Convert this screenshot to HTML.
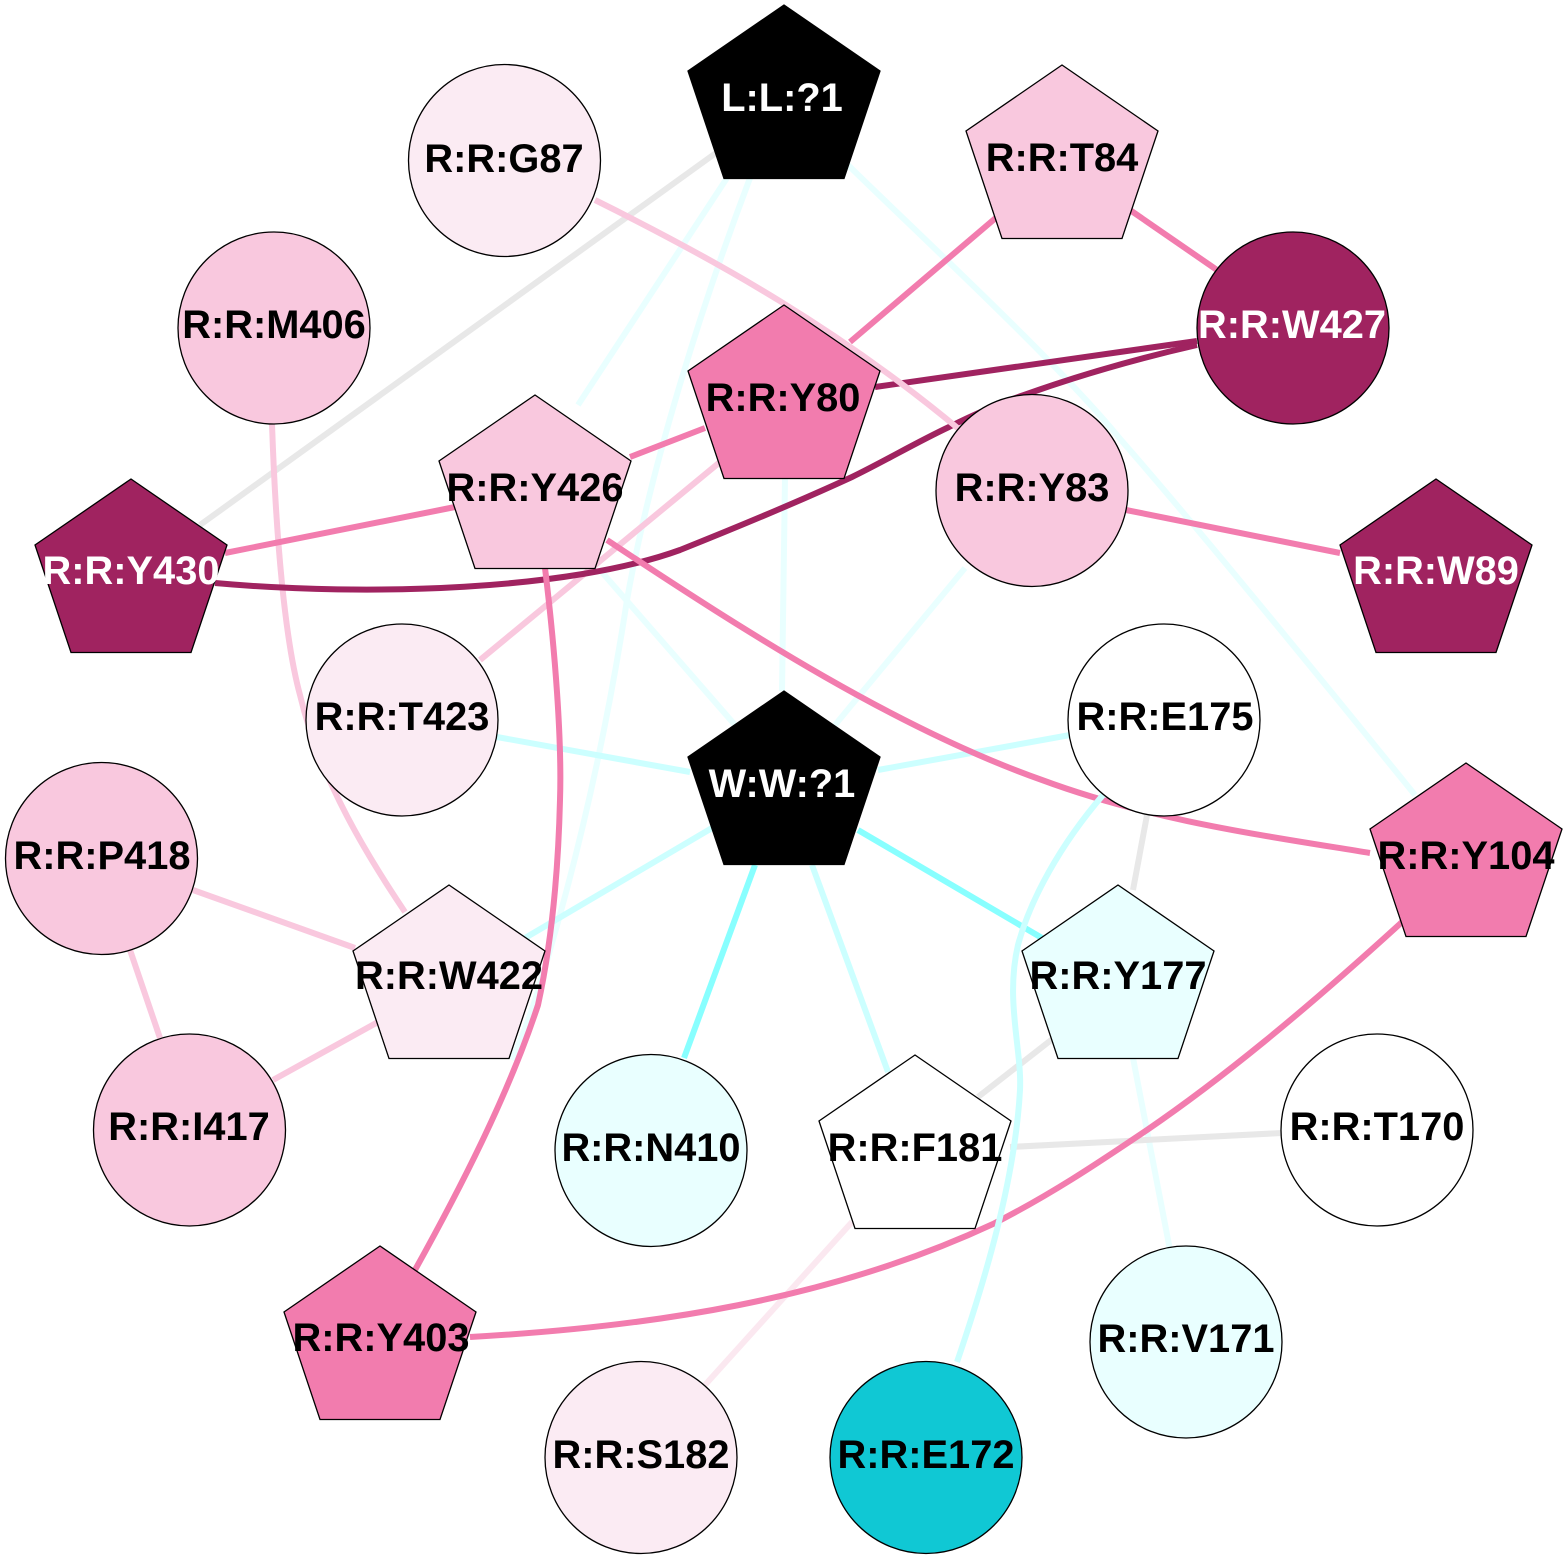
<!DOCTYPE html>
<html><head><meta charset="utf-8"><style>
html,body{margin:0;padding:0;background:#fff;width:1567px;height:1559px;overflow:hidden}
svg{display:block}
text{font-family:"Liberation Sans",sans-serif;font-weight:bold;font-size:39.8px;text-anchor:middle}
.e{fill:none;stroke-width:6}
.n{stroke:#000;stroke-width:1.3}
</style></head><body>
<svg width="1567" height="1559" viewBox="0 0 1567 1559" xmlns="http://www.w3.org/2000/svg">
<defs><polygon id="p" points="0,0 96,66 60,173.500 -60,173.500 -96,66"/></defs>
<g class="e">
<path d="M720,150L200,525" stroke="#e8e8e8"/>
<path d="M750,178C700,310 650,470 627,600C610,710 585,830 550,950C540,985 530,1020 512,1060" stroke="#e9ffff"/>
<path d="M727,178L578,405" stroke="#e9ffff"/>
<path d="M848,165C930,245 1060,365 1121,440C1200,530 1330,690 1415,795" stroke="#e9ffff"/>
<path d="M785,478L782,691" stroke="#e9ffff"/>
<path d="M600,570L735,725" stroke="#e9ffff"/>
<path d="M965,568L835,725" stroke="#e9ffff"/>
<path d="M1133,1058L1170,1250" stroke="#e9ffff"/>
<path d="M720,462L480,660" stroke="#f9c8de"/>
<path d="M272,424C276,540 285,640 300,695C320,780 370,860 405,912" stroke="#f9c8de"/>
<path d="M193,890L355,948" stroke="#f9c8de"/>
<path d="M130,950L160,1038" stroke="#f9c8de"/>
<path d="M273,1080L378,1022" stroke="#f9c8de"/>
<path d="M852,1222L705,1385" stroke="#fbe8f0"/>
<path d="M497,737L690,772" stroke="#ccffff"/>
<path d="M1070,735L878,770" stroke="#ccffff"/>
<path d="M712,828L525,938" stroke="#ccffff"/>
<path d="M812,865L888,1072" stroke="#ccffff"/>
<path d="M755,865L684,1058" stroke="#88ffff"/>
<path d="M858,830L1042,938" stroke="#88ffff"/>
<path d="M1147,815L1133,890" stroke="#e8e8e8"/>
<path d="M1055,1037L978,1097" stroke="#e8e8e8"/>
<path d="M1010,1147L1282,1133" stroke="#e8e8e8"/>
<path d="M875,387L1197,341" stroke="#a02360"/>
<path d="M215,583C370,597 570,590 680,550C745,524 800,501 852,477C885,461 915,443 949,427C975,414 1000,403 1024,395C1080,375 1140,358 1197,345" stroke="#a02360"/>
<path d="M998,216L850,342" stroke="#f27cae"/>
<path d="M1130,210L1217,270" stroke="#f27cae"/>
<path d="M630,457L705,428" stroke="#f27cae"/>
<path d="M455,507L225,553" stroke="#f27cae"/>
<path d="M1126,510L1340,553" stroke="#f27cae"/>
<path d="M545,568C555,650 562,740 560,800C558,880 550,950 538,1005C510,1090 465,1180 415,1270" stroke="#f27cae"/>
<path d="M607,540C750,635 900,730 1042,780C1150,820 1260,835 1370,853" stroke="#f27cae"/>
<path d="M1402,922C1300,1015 1220,1080 1147,1130C1095,1165 1050,1195 993,1224C830,1300 650,1327 470,1337" stroke="#f27cae"/>
<path d="M595,200C720,262 840,330 960,430" stroke="#f9c8de"/>
<path d="M1103,795C1060,845 1030,900 1018,945C1005,1000 1022,1050 1020,1090C1015,1180 985,1280 957,1362" stroke="#ccffff"/>
</g>
<g class="n">
<use href="#p" x="784" y="5" fill="#000"/>
<use href="#p" x="1062" y="65" fill="#f9c8de"/>
<use href="#p" x="784" y="305" fill="#f27cae"/>
<use href="#p" x="535" y="395" fill="#f9c8de"/>
<use href="#p" x="131" y="479" fill="#a02360"/>
<use href="#p" x="1436" y="479" fill="#a02360"/>
<use href="#p" x="784" y="691" fill="#000"/>
<use href="#p" x="1466" y="763" fill="#f27cae"/>
<use href="#p" x="449" y="885" fill="#fbebf3"/>
<use href="#p" x="1118" y="885" fill="#e9ffff"/>
<use href="#p" x="915" y="1055" fill="#fff"/>
<use href="#p" x="380" y="1246" fill="#f27cae"/>
<circle cx="504.500" cy="160.500" r="96" fill="#fbebf3"/>
<circle cx="274" cy="328" r="96" fill="#f9c8de"/>
<circle cx="1293" cy="328" r="96" fill="#a02360"/>
<circle cx="1032" cy="490.500" r="96" fill="#f9c8de"/>
<circle cx="402" cy="720" r="96" fill="#fbebf3"/>
<circle cx="1164" cy="720" r="96" fill="#fff"/>
<circle cx="101.500" cy="858.500" r="96" fill="#f9c8de"/>
<circle cx="189.500" cy="1130" r="96" fill="#f9c8de"/>
<circle cx="651" cy="1150.500" r="96" fill="#e9ffff"/>
<circle cx="1377" cy="1130" r="96" fill="#fff"/>
<circle cx="1186" cy="1342" r="96" fill="#e9ffff"/>
<circle cx="641" cy="1457.500" r="96" fill="#fbebf3"/>
<circle cx="926" cy="1457.500" r="96" fill="#10c8d4"/>
</g>
<g fill="#000">
<text x="504" y="172">R:R:G87</text>
<text x="1062" y="171">R:R:T84</text>
<text x="274" y="338">R:R:M406</text>
<text x="783" y="411">R:R:Y80</text>
<text x="1032" y="501">R:R:Y83</text>
<text x="535" y="501">R:R:Y426</text>
<text x="402" y="730">R:R:T423</text>
<text x="1165" y="730">R:R:E175</text>
<text x="102" y="869">R:R:P418</text>
<text x="1466" y="869">R:R:Y104</text>
<text x="449" y="989">R:R:W422</text>
<text x="1118" y="989">R:R:Y177</text>
<text x="189" y="1140">R:R:I417</text>
<text x="1377" y="1140">R:R:T170</text>
<text x="651" y="1161">R:R:N410</text>
<text x="915" y="1161">R:R:F181</text>
<text x="381" y="1351">R:R:Y403</text>
<text x="1186" y="1352">R:R:V171</text>
<text x="641" y="1468">R:R:S182</text>
<text x="926" y="1468">R:R:E172</text>
</g>
<g fill="#fff">
<text x="782" y="111">L:L:?1</text>
<text x="782" y="797">W:W:?1</text>
<text x="1292" y="338">R:R:W427</text>
<text x="131" y="584">R:R:Y430</text>
<text x="1436" y="584">R:R:W89</text>
</g>
</svg>
</body></html>
